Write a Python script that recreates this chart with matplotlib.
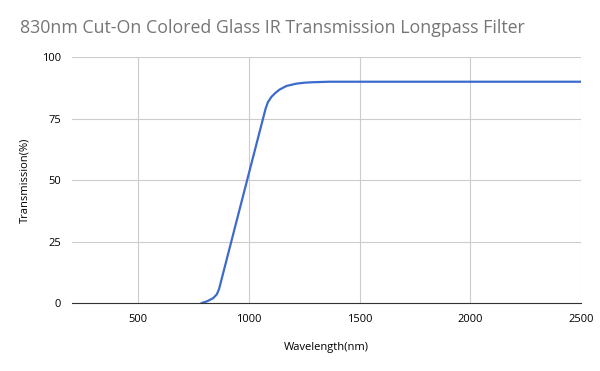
import matplotlib.pyplot as plt

plt.rcParams['font.family'] = ['Open Sans', 'DejaVu Sans']

# transmission curve
wavelength = [786, 812, 838, 855, 865, 1000, 1075, 1085, 1101, 1120, 1138, 1170,
              1213, 1250, 1288, 1363, 1500, 2000, 2500]
transmission = [0, 0.8, 2, 3.6, 5.8, 52.9, 79, 81.6, 83.8, 85.5, 86.8, 88.3,
                89.2, 89.6, 89.8, 90, 90, 90, 90]

x_ticks = [500, 1000, 1500, 2000, 2500]
y_ticks = [0, 25, 50, 75, 100]

fig = plt.figure(figsize=(6, 3.71), dpi=100)
ax = fig.add_axes([0.12, 0.183, 0.848, 0.663])

ax.plot(wavelength, transmission, color='#3d6bcc', linewidth=1.6,
        solid_joinstyle='round')

ax.set_xlim(200, 2500)
ax.set_ylim(0, 100)
ax.set_xticks(x_ticks)
ax.set_yticks(y_ticks)
ax.tick_params(length=0, labelsize=8, pad=8)
ax.grid(color='#cccccc', linewidth=0.8)
ax.set_axisbelow(True)
for s in ['top', 'right', 'left']:
    ax.spines[s].set_visible(False)
ax.spines['bottom'].set_color('#333333')

ax.set_xlabel('Wavelength(nm)', fontsize=8, labelpad=12)
ax.set_ylabel('Transmission(%)', fontsize=8, labelpad=8)

fig.text(0.033, 0.925, '830nm Cut-On Colored Glass IR Transmission Longpass Filter',
         fontsize=12.8, color='#757575', va='center', ha='left')

fig.savefig('out.png', dpi=100)
